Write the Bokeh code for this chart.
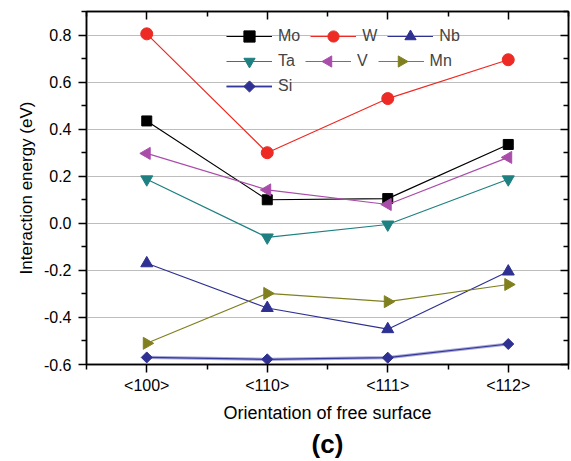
from bokeh.plotting import figure
from bokeh.models import (LinearAxis, FixedTicker, PrintfTickFormatter, Legend,
                          LegendItem, Title, CustomJSTickFormatter, CustomJS)
from bokeh.embed import file_html
from bokeh.resources import INLINE

orientations = ["<100>", "<110>", "<111>", "<112>"]
mo = [0.435, 0.10, 0.105, 0.335]
w = [0.805, 0.30, 0.53, 0.695]
nb = [-0.17, -0.36, -0.45, -0.205]
ta = [0.187, -0.06, -0.005, 0.187]
v = [0.297, 0.142, 0.08, 0.28]
mn = [-0.51, -0.298, -0.333, -0.26]
si = [-0.57, -0.578, -0.571, -0.513]

y_major = [-0.6, -0.4, -0.2, 0.0, 0.2, 0.4, 0.6, 0.8]
y_minor = [-0.5, -0.3, -0.1, 0.1, 0.3, 0.5, 0.7, 0.9]

xs = list(range(len(orientations)))
x_minor = [i - 0.5 for i in xs] + [xs[-1] + 0.5]

FONT = "Liberation Sans"

# custom marker shapes (drawn in marker-local pixel space, r = size/2)
JS_HEAD = """
let ctx = null, i = 0, r = null, vis = null;
const nums = [];
const take = (o) => {
  if (o == null) return;
  if (typeof o === 'number') { nums.push(o); return; }
  if (typeof o !== 'object') return;
  if (typeof o.moveTo === 'function') { if (!ctx) ctx = o; return; }
  if (o.fill && o.line && typeof o.line.apply === 'function') { if (!vis) vis = o; return; }
  if ('ctx' in o) { take(o.ctx); take(o.i); take(o.r); take(o.visuals); }
};
for (let k = 0; k < arguments.length; k++) take(arguments[k]);
if (nums.length >= 2) { i = nums[0]; r = nums[1]; } else if (nums.length == 1) { r = nums[0]; }
if (!ctx || r == null) return;
ctx.beginPath();
"""
JS_TAIL = """
ctx.closePath();
try {
  if (vis) { vis.fill.apply(ctx, i); if (vis.hatch) vis.hatch.apply(ctx, i); vis.line.apply(ctx, i); }
  else { ctx.fill(); }
} catch (e) { ctx.fill(); }
"""
left_tri = CustomJS(code=JS_HEAD + """
const h = r*Math.sqrt(3), a = h/3;
ctx.moveTo(a, -r); ctx.lineTo(a, r); ctx.lineTo(a - h, 0);
""" + JS_TAIL)
right_tri = CustomJS(code=JS_HEAD + """
const h = r*Math.sqrt(3), a = h/3;
ctx.moveTo(-a, -r); ctx.lineTo(-a, r); ctx.lineTo(h - a, 0);
""" + JS_TAIL)
sq_diamond = CustomJS(code=JS_HEAD + """
ctx.moveTo(0, -r); ctx.lineTo(r, 0); ctx.lineTo(0, r); ctx.lineTo(-r, 0);
""" + JS_TAIL)
DEFS = {"@left_tri": left_tri, "@right_tri": right_tri, "@sq_diamond": sq_diamond}

p = figure(width=571, height=461, output_backend="svg", toolbar_location=None,
           x_range=(-0.5, 3.5), y_range=(-0.6, 0.9),
           min_border_left=86, min_border_right=3, min_border_top=11,
           min_border_bottom=97)
p.background_fill_color = "white"
p.border_fill_color = "white"
p.outline_line_color = "black"
p.outline_line_width = 1.5

xt = FixedTicker(ticks=xs, minor_ticks=x_minor)
yt = FixedTicker(ticks=y_major, minor_ticks=y_minor)

xa = p.xaxis[0]
xa.ticker = xt
xa.major_label_overrides = {i: lab for i, lab in zip(xs, orientations)}
xa.axis_label = "Orientation of free surface"
ya = p.yaxis[0]
ya.ticker = yt
ya.formatter = PrintfTickFormatter(format="%.1f")
ya.axis_label = "Interaction energy (eV)"

for ax in (xa, ya):
    ax.axis_line_width = 1.5
    ax.major_tick_line_width = 1.5
    ax.minor_tick_line_width = 1.5
    ax.major_tick_in = 0
    ax.major_tick_out = 8
    ax.minor_tick_in = 0
    ax.minor_tick_out = 5
    ax.major_label_text_font = FONT
    ax.major_label_text_font_size = "16px"
    ax.major_label_text_color = "black"
    ax.axis_label_text_font = FONT
    ax.axis_label_text_font_style = "normal"
    ax.axis_label_text_color = "black"
xa.axis_label_text_font_size = "18px"
ya.axis_label_text_font_size = "17px"
xa.major_label_standoff = 4
xa.axis_label_standoff = 6
ya.major_label_standoff = 7
ya.axis_label_standoff = 5

blank = CustomJSTickFormatter(code="return ''")
top = LinearAxis(ticker=xt, formatter=blank)
right = LinearAxis(ticker=yt, formatter=blank)
for ax in (top, right):
    ax.axis_line_width = 1.5
    ax.major_tick_line_width = 1.5
    ax.minor_tick_line_width = 1.5
    ax.major_tick_in = 8
    ax.major_tick_out = 0
    ax.minor_tick_in = 5
    ax.minor_tick_out = 0
    ax.major_label_standoff = 0
p.add_layout(top, "above")
p.add_layout(right, "right")

p.xgrid.visible = False
p.ygrid.ticker = yt
p.ygrid.grid_line_color = "#bdbdbd"
p.ygrid.grid_line_width = 1.2

series = [
    ("Mo", mo, "black", "black", "square", 10),
    ("W", w, "#ed2a24", "#ed2a24", "circle", 12),
    ("Nb", nb, "#2e3192", "#2e3192", "triangle", 12),
    ("Ta", ta, "#1e8080", "#1e8080", "inverted_triangle", 12),
    ("V", v, "#aa4daa", "#aa4daa", "@left_tri", 12),
    ("Mn", mn, "#808020", "#808020", "@right_tri", 12),
    ("Si", si, "#34389a", "#2e3192", "@sq_diamond", 11),
]

items = []
for name, ys, lc, mc, mk, sz in series:
    rends = []
    if name == "Si":
        rends.append(p.line(xs, ys, line_color="#a9a9d8", line_width=3.2))
    rends.append(p.line(xs, ys, line_color=lc, line_width=1.2))
    kw = {"defs": DEFS} if mk.startswith("@") else {}
    rends.append(p.scatter(xs, ys, marker=mk, size=sz, fill_color=mc,
                           line_color=mc, **kw))
    items.append(LegendItem(label=name, renderers=rends))

# three legend rows, each a horizontal flow of items
row_groups = [items[0:3], items[3:6], items[6:7]]
row_y = [314, 289, 264]
for grp, ry in zip(row_groups, row_y):
    leg = Legend(items=grp, orientation="horizontal",
                 location=(140, ry), padding=0, margin=0, spacing=10,
                 glyph_width=46, glyph_height=28, label_standoff=6,
                 label_text_font=FONT, label_text_font_size="16px",
                 label_width=0, label_height=20,
                 background_fill_alpha=0, border_line_alpha=0)
    p.add_layout(leg, "center")

p.add_layout(Title(text="(c)", align="center", text_font=FONT,
                   text_font_size="26px", text_font_style="bold",
                   text_color="black", standoff=3), "below")

open("out.html", "w").write(file_html(p, INLINE))
